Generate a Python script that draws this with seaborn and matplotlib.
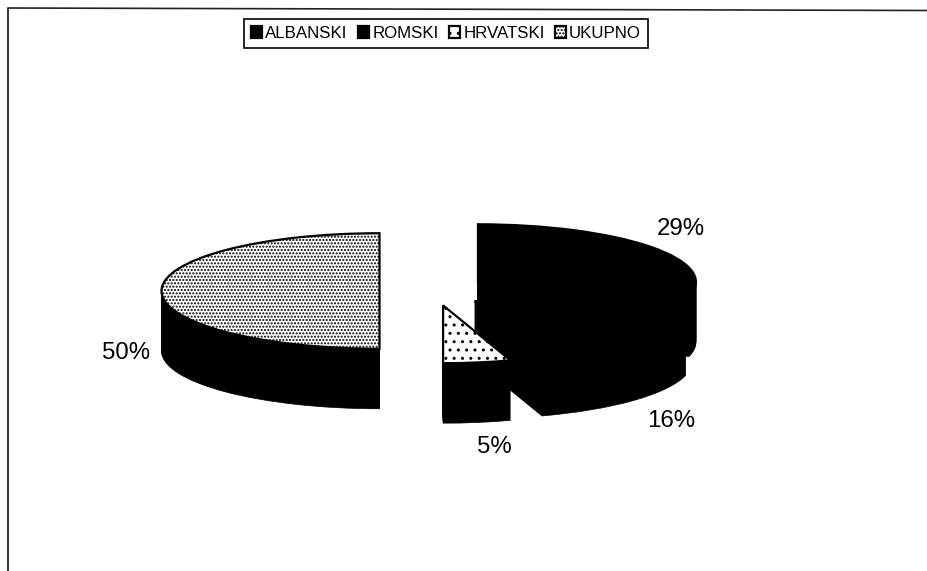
import matplotlib
matplotlib.use("Agg")
import matplotlib.pyplot as plt
import seaborn as sns

categories = ["ALBANSKI", "ROMSKI", "HRVATSKI", "UKUPNO"]
values = [29, 16, 5, 50]
pct_labels = ["29%", "16%", "5%", "50%"]

W, H = 928, 571
SQUASH = 0.265   # pie is tilted, so y runs shorter than x
DEPTH = 60
RADIUS = 218
EXPLODE = 55
CX, CY = 434.5, 291

sns.set_theme(style="white")
plt.rcParams["font.family"] = ["Liberation Sans", "DejaVu Sans"]
plt.rcParams["hatch.linewidth"] = 1.0

fig = plt.figure(figsize=(W / 100, H / 100), dpi=100)
ax = fig.add_axes([0, 0, 1, 1])

tops = ["black", "black", "white", "white"]
hatches = [None, None, "..", "....."]


def draw_pie(cy, faces, hatch_list, edge, lw):
    wedges, _ = ax.pie(
        values,
        explode=[EXPLODE] * 4,
        startangle=90,
        counterclock=False,
        radius=RADIUS,
        center=(CX, cy / SQUASH),
        colors=faces,
        hatch=hatch_list,
        wedgeprops=dict(edgecolor=edge, linewidth=lw),
    )
    return wedges


# side wall: stack of black pies from the bottom up
for d in range(DEPTH, 0, -1):
    draw_pie(H - CY - d, ["black"] * 4, None, "black", 0.5)
wedges = draw_pie(H - CY, tops, hatches, "black", 1.6)

ax.set_aspect("auto")
ax.set_xlim(0, W)
ax.set_ylim(0, H / SQUASH)
ax.axis("off")

# percent labels
label_pos = [(681, 229), (671, 421), (494, 447), (126, 353)]
for txt, (x, y) in zip(pct_labels, label_pos):
    fig.text(x / W, 1 - y / H, txt, fontsize=17.3, ha="center", va="center", color="black")

# legend box on top
leg = fig.legend(
    wedges, categories, ncol=4, loc="center",
    bbox_to_anchor=(446 / W, 1 - 33.5 / H),
    fontsize=12.2, frameon=True, fancybox=False, edgecolor="black",
    handlelength=0.65, handleheight=0.65, handletextpad=0.2, columnspacing=0.6,
    borderpad=0.4, borderaxespad=0,
)
leg.get_frame().set_linewidth(1.2)
leg.get_frame().set_alpha(1)
for t in leg.get_texts():
    t.set_color("black")

# chart area border, left and top only
fig.add_artist(plt.Line2D([8.5 / W, 8.5 / W], [0, 1 - 8 / H], color="#111111", lw=1.2))
fig.add_artist(plt.Line2D([8.5 / W, 1], [1 - 8 / H, 1 - 10.5 / H], color="#222222", lw=1.2))

fig.savefig("out.png", dpi=100)
